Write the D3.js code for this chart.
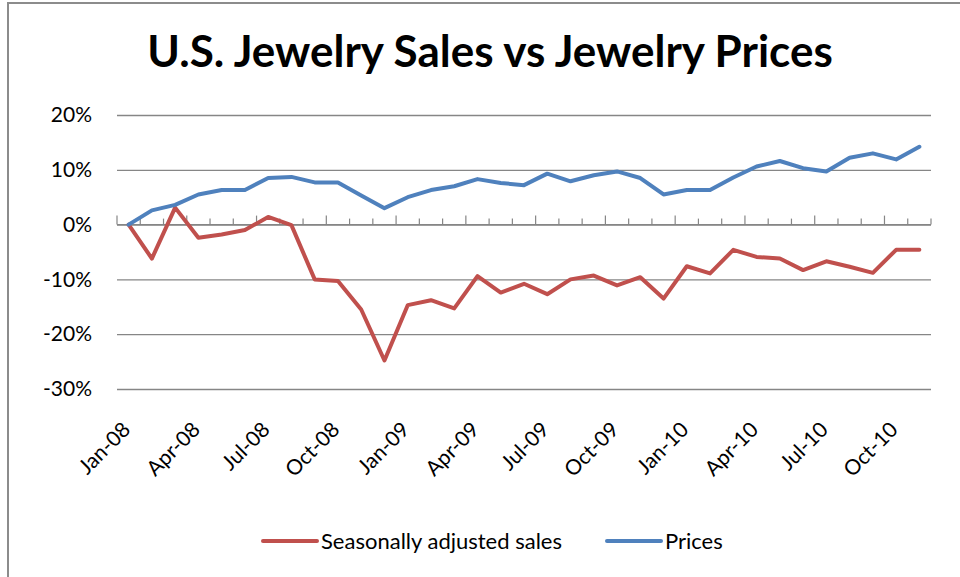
<!DOCTYPE html>
<html>
<head>
<meta charset="utf-8">
<script src="https://cdn.jsdelivr.net/npm/d3@7"></script>
<style>
  body { margin: 0; background: #fff; }
  svg text { font-family: Lato, "Open Sans", sans-serif; fill: #000; }
</style>
</head>
<body>
<div id="chart"></div>
<script>
// data (monthly, Jan-08 .. Nov-10)
var months = ["Jan-08","Feb-08","Mar-08","Apr-08","May-08","Jun-08","Jul-08","Aug-08","Sep-08","Oct-08","Nov-08","Dec-08",
              "Jan-09","Feb-09","Mar-09","Apr-09","May-09","Jun-09","Jul-09","Aug-09","Sep-09","Oct-09","Nov-09","Dec-09",
              "Jan-10","Feb-10","Mar-10","Apr-10","May-10","Jun-10","Jul-10","Aug-10","Sep-10","Oct-10","Nov-10"];
var sales = [0, -6.2, 3.1, -2.4, -1.8, -1.0, 1.4, -0.1, -10.0, -10.3, -15.5, -24.8,
             -14.7, -13.8, -15.3, -9.4, -12.4, -10.8, -12.7, -10.0, -9.3, -11.1, -9.6, -13.5,
             -7.6, -8.9, -4.6, -5.9, -6.2, -8.3, -6.7, -7.7, -8.8, -4.6, -4.6];
var prices = [0, 2.6, 3.6, 5.5, 6.3, 6.3, 8.5, 8.7, 7.7, 7.7, 5.3, 3.0,
              5.0, 6.3, 7.0, 8.3, 7.6, 7.2, 9.3, 7.9, 9.0, 9.7, 8.5, 5.5,
              6.3, 6.3, 8.6, 10.6, 11.6, 10.3, 9.7, 12.2, 13.0, 11.9, 14.2];
var yTicks = [20, 10, 0, -10, -20, -30];
var seriesNames = ["Seasonally adjusted sales", "Prices"];

//COLOURS
var COLOUR_SALES = "#C0504D";
var COLOUR_PRICES = "#4F81BD";
var COLOUR_GRID = "#868686";

var W = 960, H = 577;
var plotLeft = 117, plotRight = 931, plotTop = 115, plotBottom = 389;

var svg = d3.select("#chart").append("svg")
    .attr("width", W)
    .attr("height", H);

// chart border
svg.append("rect")
    .attr("x", 8).attr("y", 3)
    .attr("width", 1000).attr("height", 1000)
    .attr("fill", "#fff")
    .attr("stroke", "#8c8c8c")
    .attr("stroke-width", 2);

svg.append("text")
    .attr("x", 490)
    .attr("y", 67)
    .attr("text-anchor", "middle")
    .style("font-size", "44px")
    .style("font-weight", "bold")
    .text("U.S. Jewelry Sales vs Jewelry Prices");

var x = d3.scaleBand()
    .domain(months)
    .range([plotLeft, plotRight]);

var y = d3.scaleLinear()
    .domain([-30, 20])
    .range([plotBottom, plotTop]);

// horizontal gridlines + labels
svg.append("g")
    .attr("transform", "translate(" + plotLeft + ",0)")
    .call(d3.axisLeft(y).tickValues(yTicks)
        .tickSize(-(plotRight - plotLeft))
        .tickPadding(25)
        .tickFormat(function(d) { return d + "%"; }))
    .call(function(g) {
        g.select(".domain").remove();
        g.selectAll("line").attr("stroke", COLOUR_GRID).attr("stroke-width", 1.3);
        g.selectAll("text").style("font-size", "21px").attr("fill", "#000")
            .style("font-family", "Lato, sans-serif");
    });

// category axis at 0%
var boundaries = d3.range(months.length + 1);
var xAxis = svg.append("g");
xAxis.append("line")
    .attr("x1", plotLeft).attr("x2", plotRight)
    .attr("y1", y(0)).attr("y2", y(0))
    .attr("stroke", COLOUR_GRID).attr("stroke-width", 1.3);
xAxis.selectAll("line.tick")
    .data(boundaries)
    .enter().append("line")
    .attr("class", "tick")
    .attr("x1", function(i) { return plotLeft + i * x.step(); })
    .attr("x2", function(i) { return plotLeft + i * x.step(); })
    .attr("y1", y(0))
    .attr("y2", function(i) { return y(0) - (i % 3 == 0 ? 9 : 6); })
    .attr("stroke", COLOUR_GRID).attr("stroke-width", 1.2);

xAxis.selectAll("text")
    .data(months.filter(function(d, i) { return i % 3 == 0; }))
    .enter().append("text")
    .attr("transform", function(d) {
        return "translate(" + (x(d) + x.bandwidth() / 2 + 3) + ",431) rotate(-45)";
    })
    .attr("text-anchor", "end")
    .style("font-size", "21px")
    .text(function(d) { return d; });

var line = d3.line()
    .x(function(d, i) { return x(months[i]) + x.bandwidth() / 2; })
    .y(function(d) { return y(d); });

svg.append("path")
    .datum(sales)
    .attr("fill", "none")
    .attr("stroke", COLOUR_SALES)
    .attr("stroke-width", 4)
    .attr("stroke-linejoin", "round")
    .attr("stroke-linecap", "round")
    .attr("d", line);

svg.append("path")
    .datum(prices)
    .attr("fill", "none")
    .attr("stroke", COLOUR_PRICES)
    .attr("stroke-width", 4)
    .attr("stroke-linejoin", "round")
    .attr("stroke-linecap", "round")
    .attr("d", line);

// legend
var legendItems = [
    { name: seriesNames[0], colour: COLOUR_SALES, x: 263 },
    { name: seriesNames[1], colour: COLOUR_PRICES, x: 607 }
];
var lg = svg.selectAll("g.legend")
    .data(legendItems)
    .enter().append("g")
    .attr("class", "legend")
    .attr("transform", function(d) { return "translate(" + d.x + ",541)"; });
lg.append("line")
    .attr("x1", 0).attr("x2", 54)
    .attr("stroke", function(d) { return d.colour; })
    .attr("stroke-width", 4)
    .attr("stroke-linecap", "round");
lg.append("text")
    .attr("x", 58)
    .attr("y", 7.5)
    .style("font-size", "22px")
    .text(function(d) { return d.name; });
</script>
</body>
</html>
